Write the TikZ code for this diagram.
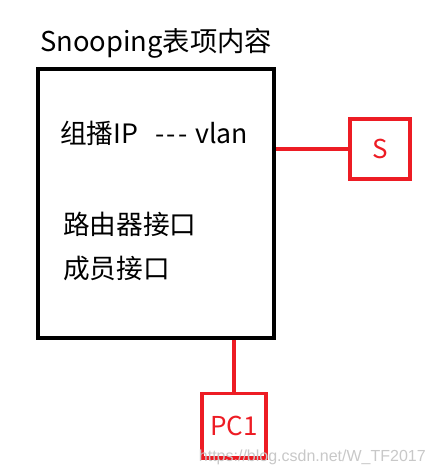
\documentclass[tikz,border=0pt]{standalone}
\usepackage{fontspec}
\setmainfont{Noto Sans CJK SC}
\newfontfamily\markfont{Liberation Sans}
\usepackage{tikz}
\definecolor{snred}{RGB}{237,28,36}
\definecolor{markgray}{RGB}{200,200,200}
\usetikzlibrary{positioning,calc}

\begin{document}
\begin{tikzpicture}[x=0.75pt,y=-0.75pt,
    redbox/.style={draw=snred,line width=2.5pt,text=snred,
                   font=\fontsize{19.5}{22}\selectfont,inner sep=0pt}]
  \useasboundingbox (0,0) rectangle (436,474);
  %% Snooping table
  \node[anchor=base west,font=\fontsize{20.5}{23}\selectfont,inner sep=0pt]
        (title) at (40,52) {Snooping表项内容};
  \node[draw,line width=2.5pt,minimum width=177pt,minimum height=201.5pt]
        (tbl) at (156,203.5) {};
  \node[anchor=base west,font=\fontsize{20}{23}\selectfont,inner sep=0pt]
        (entry) at (60,143) {组播IP\hspace{13pt}-\kern1.5pt-\kern1.5pt-\hspace{6pt}vlan};
  \node[anchor=base west,font=\fontsize{20}{23}\selectfont,inner sep=0pt]
        (rport) at (63,234) {路由器接口};
  \node[anchor=base west,font=\fontsize{20}{23}\selectfont,inner sep=0pt]
        (mport) at (63,278) {成员接口};
  %% Switch and host
  \node[redbox,minimum width=45pt,minimum height=45pt] (s) at (380,149) {S};
  \node[redbox,minimum width=48pt,minimum height=48.5pt] (pc) at (234,425.5) {PC1};
  \draw[snred,line width=2.5pt] (s.west) -- (s.west -| tbl.east);
  \draw[snred,line width=2.5pt] (pc.north) -- (pc.north |- tbl.south);
  %% watermark
  \node[anchor=base east,font=\markfont\fontsize{12}{14}\selectfont,
        text=markgray,inner sep=0pt] (mark) at (426,461)
        {https://blog.csdn.net/W\_TF2017};
\end{tikzpicture}
\end{document}
